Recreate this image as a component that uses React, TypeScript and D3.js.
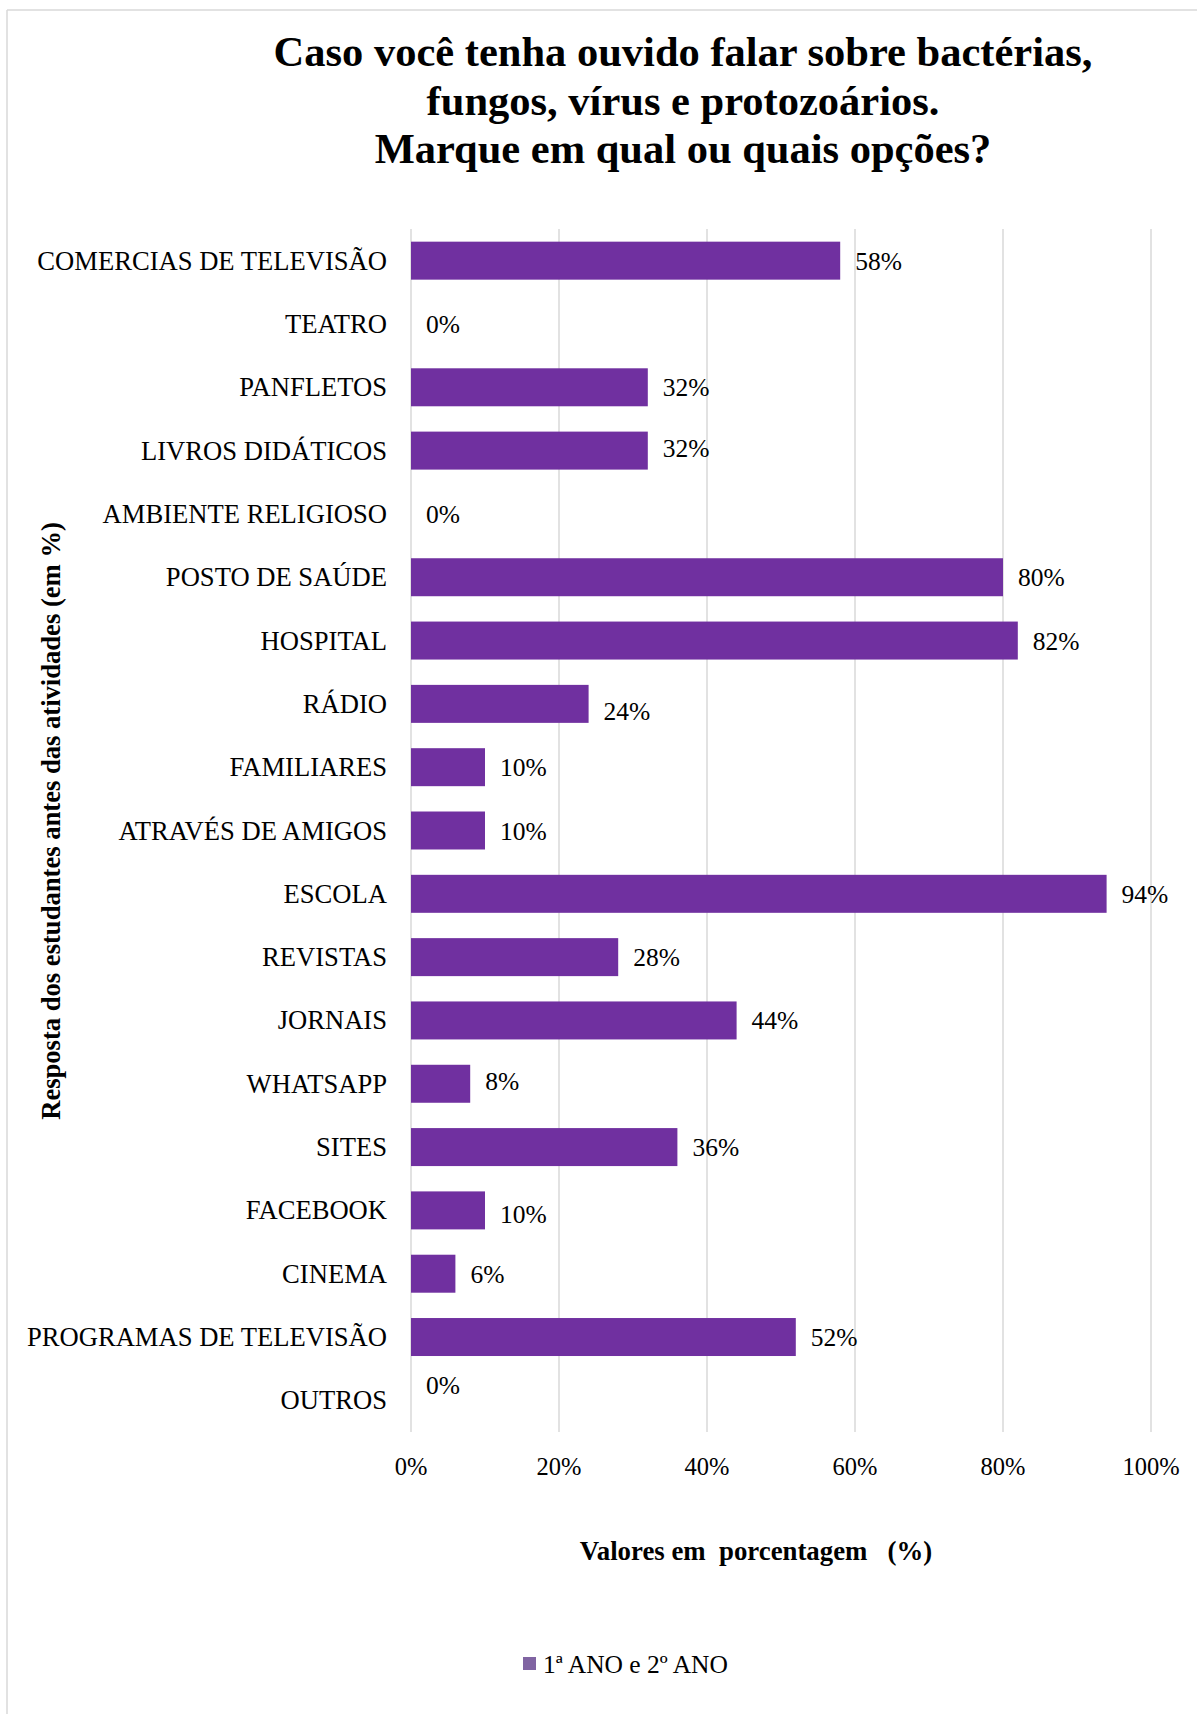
import React from "react";
import * as d3 from "d3";

// Survey answers, in the order they are listed on the chart (top to bottom)
const categories: string[] = [
  "COMERCIAS DE TELEVISÃO",
  "TEATRO",
  "PANFLETOS",
  "LIVROS DIDÁTICOS",
  "AMBIENTE RELIGIOSO",
  "POSTO DE SAÚDE",
  "HOSPITAL",
  "RÁDIO",
  "FAMILIARES",
  "ATRAVÉS DE AMIGOS",
  "ESCOLA",
  "REVISTAS",
  "JORNAIS",
  "WHATSAPP",
  "SITES",
  "FACEBOOK",
  "CINEMA",
  "PROGRAMAS DE TELEVISÃO",
  "OUTROS",
];

// Percentage of students (1º and 2º ano) choosing each option
const values: number[] = [58, 0, 32, 32, 0, 80, 82, 24, 10, 10, 94, 28, 44, 8, 36, 10, 6, 52, 0];

const xTicks: number[] = [0, 20, 40, 60, 80, 100];

const titleLines: string[] = [
  "Caso você tenha ouvido falar sobre bactérias,",
  "fungos, vírus e protozoários.",
  "Marque em qual ou quais opções?",
];

const seriesName = "1ª ANO e 2º ANO";

// Small vertical nudges for a few value labels (px)
const labelNudge: Record<string, number> = {
  "RÁDIO": 7,
  "LIVROS DIDÁTICOS": -3,
  "WHATSAPP": -3,
  "FACEBOOK": 4,
  "OUTROS": -15,
};

const W = 1197;
const H = 1714;
const FONT = "'Liberation Serif', 'Times New Roman', serif";
const BAR = "#7030A0";
const GRID = "#d9d9d9";

export default function App() {
  const plot = { left: 411, right: 1151, top: 229, bottom: 1432 };

  const x = d3.scaleLinear().domain([0, 100]).range([plot.left, plot.right]);
  const y = d3
    .scaleBand<string>()
    .domain(categories)
    .range([plot.top, plot.bottom])
    .paddingInner(0.4)
    .paddingOuter(0.2);

  const fmt = (v: number) => `${v}%`;

  return (
    <svg
      width={W}
      height={H}
      viewBox={`0 0 ${W} ${H}`}
      style={{ position: "absolute", left: 0, top: 0, background: "#fff" }}
      fontFamily={FONT}
    >
      <rect x={0} y={0} width={W} height={H} fill="#fff" />
      {/* chart frame */}
      <line x1={7} x2={W} y1={10} y2={10} stroke={GRID} strokeWidth={1.5} />
      <line x1={7} x2={7} y1={10} y2={H} stroke={GRID} strokeWidth={1.5} />

      {/* title */}
      <text textAnchor="middle" fontWeight="bold" fontSize={42.5} fill="#000">
        {titleLines.map((t, i) => (
          <tspan key={i} x={683} y={66 + i * 48.6}>
            {t}
          </tspan>
        ))}
      </text>

      {/* vertical gridlines */}
      {xTicks.map((t) => (
        <line
          key={t}
          x1={x(t)}
          x2={x(t)}
          y1={plot.top}
          y2={plot.bottom}
          stroke={GRID}
          strokeWidth={1.5}
        />
      ))}

      {/* bars */}
      {categories.map((c, i) => (
        <rect
          key={c}
          x={x(0)}
          y={y(c)}
          width={x(values[i]) - x(0)}
          height={y.bandwidth()}
          fill={BAR}
        />
      ))}

      {/* category labels */}
      {categories.map((c) => (
        <text
          key={c}
          x={plot.left - 24}
          y={(y(c) as number) + y.bandwidth() / 2 + 9}
          textAnchor="end"
          fontSize={26.6}
          fill="#000"
        >
          {c}
        </text>
      ))}

      {/* value labels */}
      {categories.map((c, i) => (
        <text
          key={c}
          x={x(values[i]) + 15}
          y={(y(c) as number) + y.bandwidth() / 2 + 9 + (labelNudge[c] ?? 0)}
          fontSize={25.5}
          fill="#000"
        >
          {fmt(values[i])}
        </text>
      ))}

      {/* x tick labels */}
      {xTicks.map((t) => (
        <text key={t} x={x(t)} y={1475} textAnchor="middle" fontSize={24.5} fill="#000">
          {fmt(t)}
        </text>
      ))}

      {/* axis titles */}
      <text
        x={756}
        y={1560}
        textAnchor="middle"
        fontWeight="bold"
        fontSize={26.8}
        fill="#000"
        style={{ whiteSpace: "pre" }}
      >
        {"Valores em  porcentagem   (%)"}
      </text>
      <text
        transform="translate(60,821) rotate(-90)"
        textAnchor="middle"
        fontWeight="bold"
        fontSize={26.6}
        fill="#000"
      >
        Resposta dos estudantes antes das atividades (em %)
      </text>

      {/* legend */}
      <rect x={523} y={1657} width={13} height={13} fill="#8064A2" />
      <text x={543} y={1673} fontSize={25.5} fill="#000">
        {seriesName}
      </text>
    </svg>
  );
}
